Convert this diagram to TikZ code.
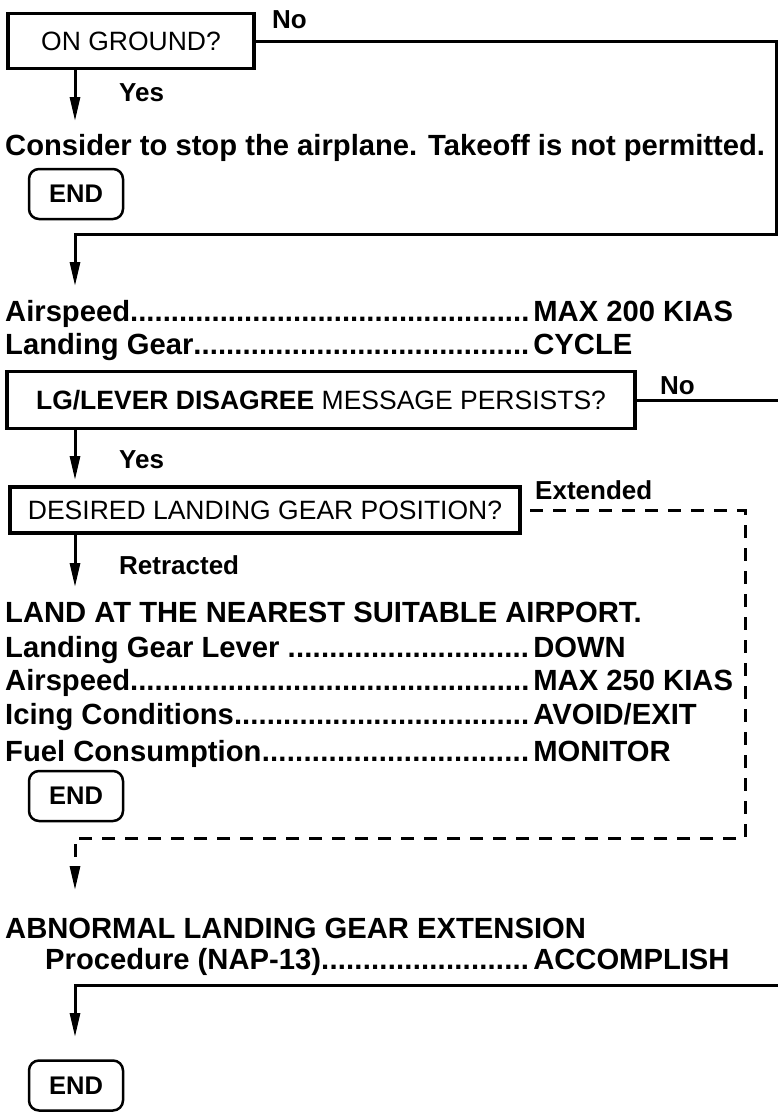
\documentclass[tikz,border=0pt]{standalone}
\usepackage{fontspec}
\setmainfont{Liberation Sans}
\usetikzlibrary{arrows.meta}
\newcommand{\dotlead}{\xleaders\hbox{.}\hfill\hspace{4pt}}
\begin{document}
\begin{tikzpicture}[x=1pt,y=-1pt,
  big/.style={font=\fontsize{29.2}{34}\selectfont\bfseries, inner sep=0pt, anchor=base west},
  lbl/.style={font=\fontsize{26}{30}\selectfont\bfseries, inner sep=0pt, anchor=base west},
  qbox/.style={draw, line width=3.5pt, inner sep=0pt, font=\fontsize{26.5}{30}\selectfont},
  endbox/.style={draw, line width=2.5pt, rounded corners=10pt, minimum width=94pt, minimum height=50pt, inner sep=0pt, font=\fontsize{25.5}{30}\selectfont\bfseries},
  conn/.style={line width=3pt, line join=miter},
  arr/.style={conn, -{Triangle[length=24pt,width=10pt]}},
  darr/.style={arr, dash pattern=on 13pt off 10pt}
]
\useasboundingbox (0,0) rectangle (778,1112);
\fill[white] (0,0) rectangle (778,1112);

% shared coordinates
\coordinate (x1) at (75,0);
\coordinate (edge) at (778,0);

% boxes
\node[qbox, minimum width=246pt, minimum height=55pt] (b1) at (131,41) {ON GROUND?};
\node[qbox, minimum width=628pt, minimum height=57pt] (lg) at (321,400) {\textbf{LG/LEVER DISAGREE} MESSAGE PERSISTS?};
\node[qbox, minimum width=510pt, minimum height=46pt] (des) at (265,510) {DESIRED LANDING GEAR POSITION?};
\node[endbox] (end1) at (76,194) {END};
\node[endbox] (end2) at (76,796) {END};
\node[endbox] (end3) at (76,1085.5) {END};

% labels
\node[lbl] (no1) at (272,28) {No};
\node[lbl] (yes1) at (119,101) {Yes};
\node[lbl] (no2) at (660,394) {No};
\node[lbl] (yes2) at (119,468) {Yes};
\node[lbl] (ext) at (535,499) {Extended};
\node[lbl] (ret) at (119,574) {Retracted};

% text
\node[big] (consider) at (5,155) {Consider to stop the airplane. Takeoff is not permitted.};
\node[big] (air1) at (5,321) {\makebox[528pt][l]{Airspeed\dotlead}MAX 200 KIAS};
\node[big] (gear1) at (5,354) {\makebox[528pt][l]{Landing Gear\dotlead}CYCLE};
\node[big] (land) at (5,622) {LAND AT THE NEAREST SUITABLE AIRPORT.};
\node[big] (lever) at (5,657) {\makebox[528pt][l]{Landing Gear Lever \dotlead}DOWN};
\node[big] (air2) at (5,690) {\makebox[528pt][l]{Airspeed\dotlead}MAX 250 KIAS};
\node[big] (icing) at (5,724) {\makebox[528pt][l]{Icing Conditions\dotlead}AVOID/EXIT};
\node[big] (fuel) at (5,761) {\makebox[528pt][l]{Fuel Consumption\dotlead}MONITOR};
\node[big] (abn) at (5,938) {ABNORMAL LANDING GEAR EXTENSION};
\node[big] (proc) at (45,969) {\makebox[488pt][l]{Procedure (NAP-13)\dotlead}ACCOMPLISH};

% connector coordinates
\coordinate (t1) at (75,121);
\coordinate (c1) at (776,234);
\coordinate (t2) at (75,286);
\coordinate (t3) at (75,480);
\coordinate (t4) at (75,587);
\coordinate (d0) at (530,510);
\coordinate (d1) at (745,838);
\coordinate (t5) at (75,890);
\coordinate (e3) at (778,985);
\coordinate (t6) at (75,1037);

% connectors
\draw[arr] (b1.south -| x1) -- (t1);
\draw[arr] (b1.east) -| (c1) -- (c1 -| x1) -- (t2);
\draw[conn] (lg.east) -- (lg.east -| edge);
\draw[arr] (lg.south -| x1) -- (t3);
\draw[arr] (des.south -| x1) -- (t4);
\draw[darr] (d0) -| (d1) -- (d1 -| x1) -- (t5);
\draw[arr] (e3) -- (e3 -| x1) -- (t6);
\end{tikzpicture}
\end{document}
